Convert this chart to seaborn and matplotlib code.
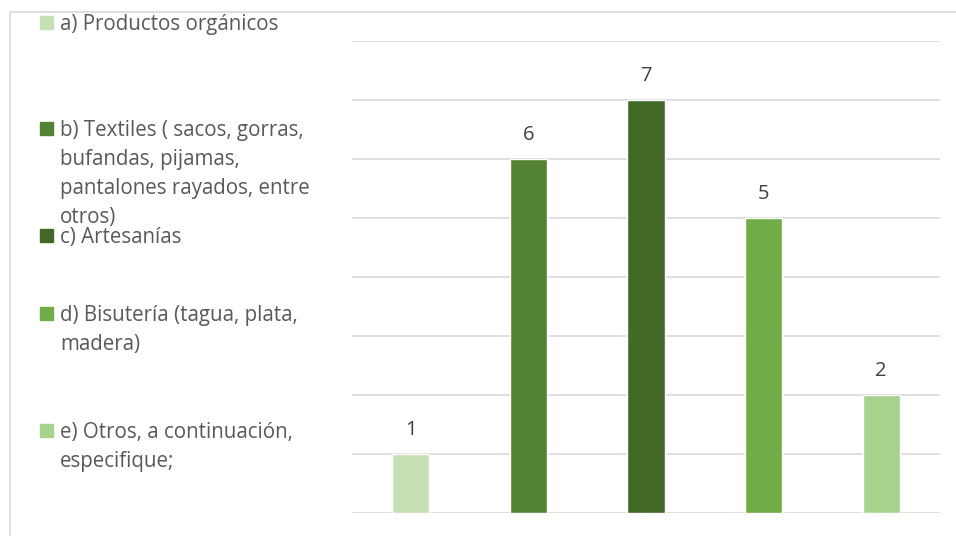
import matplotlib
matplotlib.use("Agg")
import matplotlib.pyplot as plt
from matplotlib.lines import Line2D
from matplotlib.patches import Rectangle
import seaborn as sns
import pandas as pd

categories = [
    "a) Productos orgánicos",
    "b) Textiles ( sacos, gorras,\nbufandas, pijamas,\npantalones rayados, entre\notros)",
    "c) Artesanías",
    "d) Bisutería (tagua, plata,\nmadera)",
    "e) Otros, a continuación,\nespecifique;",
]
values = [1, 6, 7, 5, 2]
colors = ["#C5E0B4", "#548235", "#436928", "#70AD47", "#A9D18E"]

sns.set_theme(style="white")
plt.rcParams["font.family"] = ["Open Sans", "DejaVu Sans"]

W, H = 956, 536
fig = plt.figure(figsize=(W / 100, H / 100), dpi=100)
ax = fig.add_axes([352 / W, (H - 513) / H, (940 - 352) / W, (513 - 41) / H])

df = pd.DataFrame({"cat": categories, "val": values})
sns.barplot(data=df, x="cat", y="val", hue="cat", palette=colors,
            width=0.315, legend=False, ax=ax, saturation=1)

ax.set_ylim(0, 8)
ax.set_yticks(range(0, 9))
ax.yaxis.grid(True, color="#D9D9D9", linewidth=1.2)
ax.set_axisbelow(True)
for s in ax.spines.values():
    s.set_visible(False)
ax.set_xlabel("")
ax.set_ylabel("")
ax.set_xticklabels([])
ax.set_yticklabels([])
ax.tick_params(length=0)

for i, v in enumerate(values):
    ax.annotate(str(v), (i, v), xytext=(0, 17), textcoords="offset points",
                ha="center", va="center", fontsize=14.5, color="#404040")

# chart frame
fig.add_artist(Line2D([10 / W, 1], [(H - 12) / H] * 2, color="#D9D9D9", lw=1.2))
fig.add_artist(Line2D([10 / W] * 2, [0, (H - 12) / H], color="#D9D9D9", lw=1.2))

# legend entries
legend_y = [22, 128, 235, 313, 430]
for lab, col, y in zip(categories, colors, legend_y):
    fig.add_artist(Rectangle((40 / W, (H - y - 7) / H), 13 / W, 13 / H,
                             color=col, transform=fig.transFigure))
    fig.text(60 / W, (H - y + 8) / H, lab, ha="left", va="top",
             fontsize=14.8, color="#595959", linespacing=1.5)

fig.savefig("out.png", dpi=100)
